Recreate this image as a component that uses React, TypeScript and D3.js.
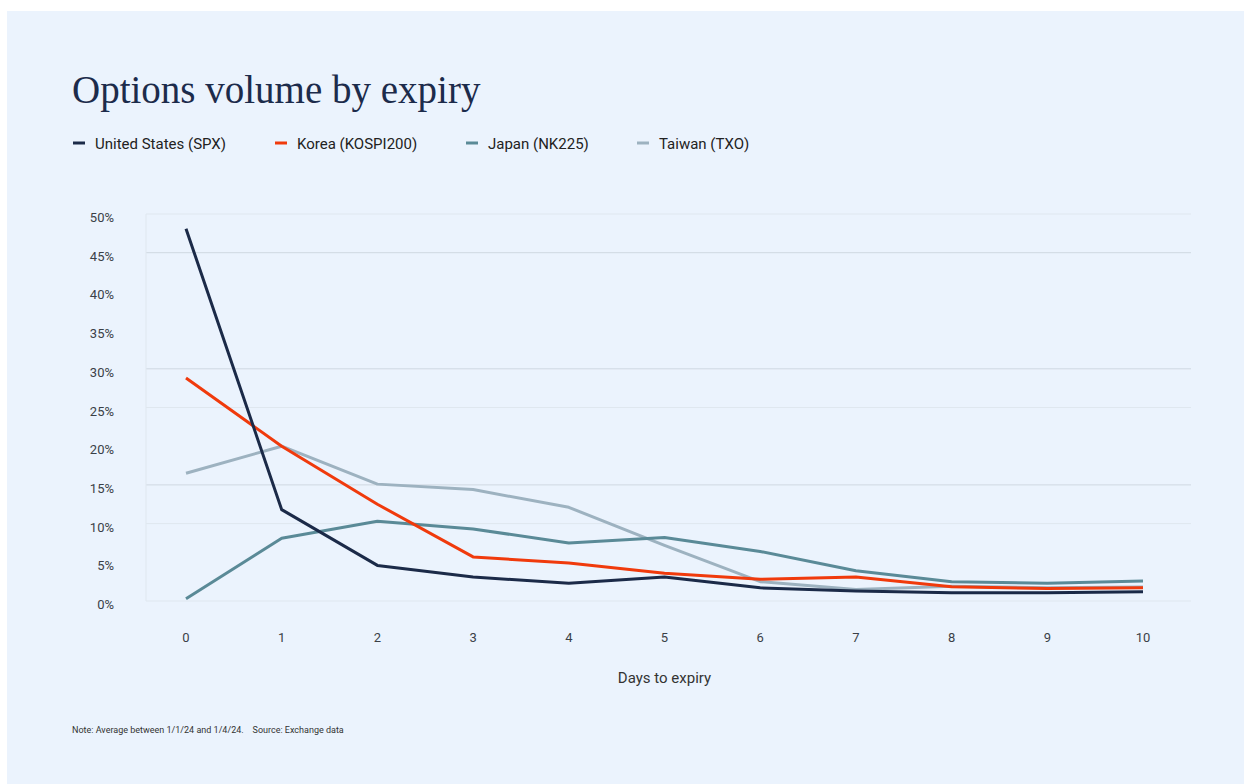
import React from "react";
import * as d3 from "d3";

const days = [0, 1, 2, 3, 4, 5, 6, 7, 8, 9, 10];
const usSPX = [48.1, 11.8, 4.6, 3.1, 2.3, 3.1, 1.7, 1.3, 1.05, 1.05, 1.2];
const koreaKOSPI = [28.8, 20.0, 12.5, 5.7, 4.9, 3.6, 2.8, 3.1, 1.85, 1.6, 1.7];
const japanNK = [0.3, 8.1, 10.3, 9.3, 7.5, 8.2, 6.4, 3.9, 2.5, 2.3, 2.6];
const taiwanTXO = [16.5, 20.0, 15.1, 14.4, 12.1, 7.2, 2.5, 1.5, 1.9, 1.7, 1.8];

const seriesNames = ["United States (SPX)", "Korea (KOSPI200)", "Japan (NK225)", "Taiwan (TXO)"];
const seriesColors = ["#1b2a48", "#f03a0c", "#5a8a97", "#9db2c0"];
const seriesValues = [usSPX, koreaKOSPI, japanNK, taiwanTXO];
const yTicks = [0, 5, 10, 15, 20, 25, 30, 35, 40, 45, 50];
const strongGrid = [45, 30, 15];
const faintGrid = [50, 25, 10, 0];

export default function App() {
  const x = d3.scaleLinear().domain([0, 10]).range([186, 1143]);
  const y = d3.scaleLinear().domain([0, 50]).range([601, 214]);
  const line = d3
    .line<number>()
    .x((_, i) => x(days[i]))
    .y((d) => y(d));
  const legendX = [73, 275, 466, 637];

  return (
    <div style={{ position: "fixed", left: 0, top: 0, width: 1244, height: 784, background: "#fff" }}>
      <svg width={1244} height={784} style={{ display: "block" }}>
        <rect x={7} y={11} width={1237} height={773} fill="#ebf3fd" />
        <text x={72} y={103} fontFamily="'Liberation Serif', serif" fontSize={39} fill="#1c2b4b">
          Options volume by expiry
        </text>
        {seriesNames.map((n, i) => (
          <g key={n}>
            <line x1={legendX[i]} x2={legendX[i] + 12} y1={143} y2={143} stroke={seriesColors[i]} strokeWidth={3} />
            <text x={legendX[i] + 22} y={148.5} fontFamily="Roboto, sans-serif" fontSize={15} fill="#222">
              {n}
            </text>
          </g>
        ))}
        {faintGrid.map((t) => (
          <line key={"f" + t} x1={146} x2={1191} y1={y(t)} y2={y(t)} stroke="#dfe7ef" strokeWidth={1} />
        ))}
        {strongGrid.map((t) => (
          <line key={"s" + t} x1={146} x2={1191} y1={y(t)} y2={y(t)} stroke="#cfd8e1" strokeWidth={1} />
        ))}
        <line x1={146} x2={146} y1={214} y2={601} stroke="#dfe7ef" strokeWidth={1} />
        {yTicks.map((t) => (
          <text key={t} x={114} y={y(t) + 8} textAnchor="end" fontFamily="Roboto, sans-serif" fontSize={13} fill="#3a3f47">
            {t}%
          </text>
        ))}
        {days.map((d) => (
          <text key={d} x={x(d)} y={642} textAnchor="middle" fontFamily="Roboto, sans-serif" fontSize={13} fill="#3a3f47">
            {d}
          </text>
        ))}
        <text x={664.5} y={683} textAnchor="middle" fontFamily="Roboto, sans-serif" fontSize={15} fill="#333">
          Days to expiry
        </text>
        {[3, 2, 1, 0].map((i) => (
          <path
            key={seriesNames[i]}
            d={line(seriesValues[i]) || ""}
            fill="none"
            stroke={seriesColors[i]}
            strokeWidth={3}
            strokeLinejoin="round"
          />
        ))}
        <text x={72} y={733} fontFamily="Roboto, sans-serif" fontSize={9} fill="#333">
          Note: Average between 1/1/24 and 1/4/24.{"\u00a0\u00a0\u00a0\u00a0"}Source: Exchange data
        </text>
      </svg>
    </div>
  );
}
